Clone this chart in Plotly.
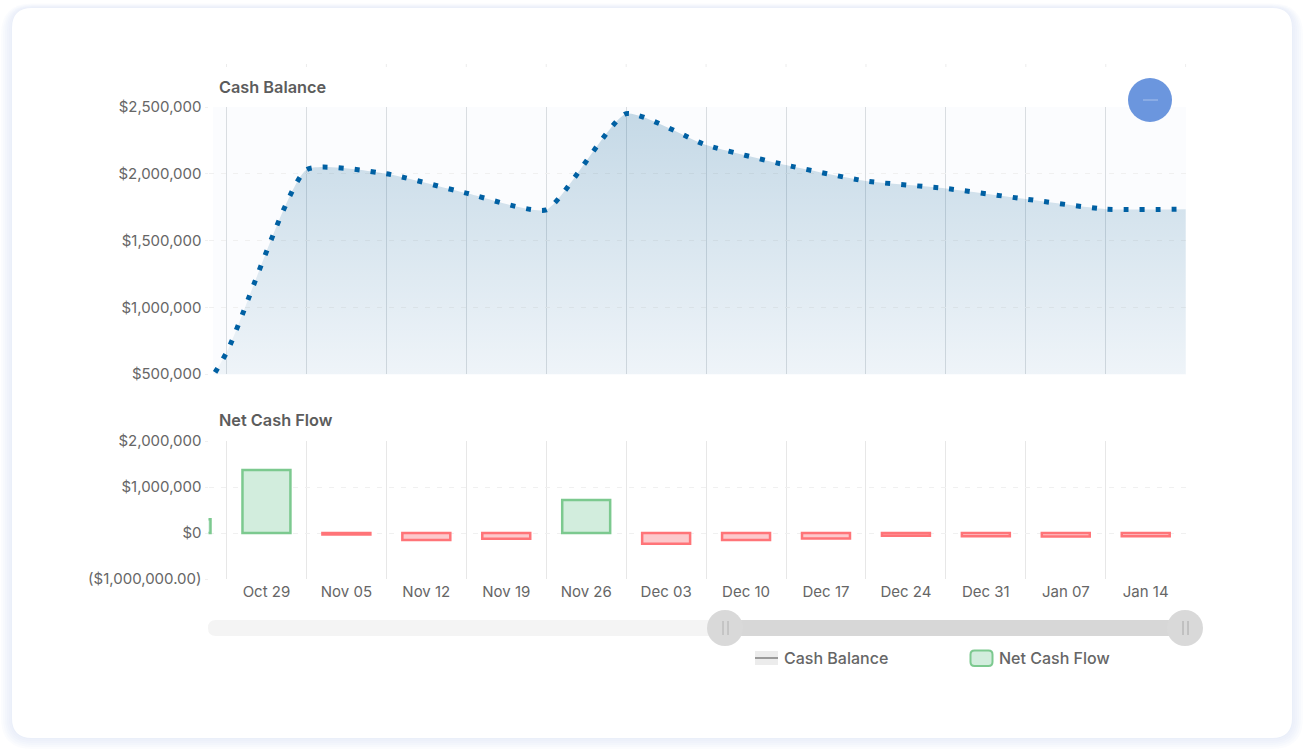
import plotly.graph_objects as go

W, H = 1304, 753

# data
week_labels = ["Oct 22", "Oct 29", "Nov 05", "Nov 12", "Nov 19", "Nov 26", "Dec 03",
               "Dec 10", "Dec 17", "Dec 24", "Dec 31", "Jan 07", "Jan 14"]
net_cash_flow = [300000, 1370000, -30000, -150000, -125000, 720000, -235000,
                 -150000, -120000, -60000, -70000, -75000, -70000]
cash_balance = [-300000, 660000, 2030000, 2000000, 1855000, 1730000, 2450000, 2215000,
                2065000, 1945000, 1890000, 1810000, 1735000, 1735000]
balance_ticks = [500000, 1000000, 1500000, 2000000, 2500000]
balance_labels = ["$500,000", "$1,000,000", "$1,500,000", "$2,000,000", "$2,500,000"]
flow_ticks = [-1000000, 0, 1000000, 2000000]
flow_labels = ["($1,000,000.00)", "$0", "$1,000,000", "$2,000,000"]

FONT = "Inter"
TEXT = "#666666"


def px(x):
    return x / W


def py(y):
    return 1 - y / H


def rrect(x0, y0, x1, y1, r):
    return (f"M {px(x0 + r)} {py(y0)} L {px(x1 - r)} {py(y0)} Q {px(x1)} {py(y0)} {px(x1)} {py(y0 + r)} "
            f"L {px(x1)} {py(y1 - r)} Q {px(x1)} {py(y1)} {px(x1 - r)} {py(y1)} "
            f"L {px(x0 + r)} {py(y1)} Q {px(x0)} {py(y1)} {px(x0)} {py(y1 - r)} "
            f"L {px(x0)} {py(y0 + r)} Q {px(x0)} {py(y0)} {px(x0 + r)} {py(y0)} Z")


def box(x0, y0, x1, y1, **kw):
    return dict(type="rect", xref="paper", yref="paper", x0=px(x0), x1=px(x1), y0=py(y0), y1=py(y1), **kw)


def seg(x0, y0, x1, y1, color, width=1, layer="above"):
    return dict(type="line", xref="paper", yref="paper", x0=px(x0), x1=px(x1), y0=py(y0), y1=py(y1),
                line=dict(color=color, width=width), layer=layer)


def circle(cx, cy, r, color):
    return box(cx - r, cy - r, cx + r, cy + r, fillcolor=color, line=dict(width=0), layer="above") | {"type": "circle"}


def rounded(x0, y0, x1, y1, r, fill, line=None, lw=0, layer="below"):
    return dict(type="path", xref="paper", yref="paper", path=rrect(x0, y0, x1, y1, r),
                fillcolor=fill, line=dict(color=line or fill, width=lw), layer=layer)


week_x = list(range(len(week_labels)))
balance_x = [i - 0.5 for i in range(len(cash_balance))]
colors_fill = ["#d2eddd" if v >= 0 else "#fcc9cc" for v in net_cash_flow]
colors_line = ["#7cc98f" if v >= 0 else "#ff7478" for v in net_cash_flow]

fig = go.Figure()
fig.add_trace(go.Scatter(
    x=balance_x, y=cash_balance, mode="lines", name="Cash Balance",
    line=dict(color="#0060a3", width=5, dash="5px,11px", shape="spline", smoothing=0.5),
    fill="tozeroy",
    fillgradient=dict(type="vertical", start=2500000, stop=500000,
                      colorscale=[[0, "rgba(0,90,145,0.22)"], [1, "rgba(0,90,145,0.05)"]]),
    xaxis="x", yaxis="y", showlegend=False,
))
fig.add_trace(go.Bar(
    x=week_x, y=net_cash_flow, width=0.6, name="Net Cash Flow",
    marker=dict(color=colors_fill, line=dict(color=colors_line, width=2.5)),
    xaxis="x2", yaxis="y2", showlegend=False,
))

xrange = [0.275, 12.51]
xcommon = dict(range=xrange, domain=[px(208.5), px(1186.5)], showgrid=False, zeroline=False, showline=False,
               tickmode="array", tickvals=week_x, fixedrange=True, automargin=False)

# soft card shadow, heavier at the sides and bottom than at the top
shadow = [rounded(12 - e, 8 - e * 0.4, 1292 + e, 738 + e, 20 + e, "rgba(205,222,240,0.08)")
          for e in (11, 9, 7, 5, 3, 1)]

# faint tick marks above the top panel
top_marks = [dict(type="line", xref="x", yref="paper", x0=v, x1=v, y0=py(64), y1=py(67),
                  line=dict(color="#ececec", width=1), layer="below") for v in balance_x[1:]]

shapes = shadow + [
    rounded(12, 8, 1292, 738, 20, "#ffffff"),
    box(213, 107, 1186, 375, fillcolor="#fbfcfe", line=dict(width=0), layer="below"),
    # range slider
    rounded(208, 620, 726, 636, 8, "#f4f4f4", layer="above"),
    box(726, 620, 1186, 636, fillcolor="#d7d7d7", line=dict(width=0), layer="above"),
    circle(725, 628, 18, "#d9d9d9"),
    circle(1185, 628, 18, "#d9d9d9"),
    seg(723, 621, 723, 635, "#b0b0b0"), seg(728, 621, 728, 635, "#b0b0b0"),
    seg(1183, 621, 1183, 635, "#a8a8a8"), seg(1188, 621, 1188, 635, "#a8a8a8"),
    # collapse button
    circle(1150, 100, 22, "#6b96de"),
    seg(1143, 100, 1158, 100, "#b9cdf0", 0.8),
    # legend swatches
    box(755, 651, 778, 665, fillcolor="#ececec", line=dict(width=0), layer="above"),
    seg(755, 658, 778, 658, "#666666", 1.2),
    rounded(970.5, 650.5, 992.5, 666, 4, "#d2eddd", "#7cc98f", 2, layer="above"),
] + top_marks

annotations = [
    dict(text=t, x=px(x), y=py(y), xref="paper", yref="paper", xanchor="left", yanchor="middle", showarrow=False,
         font=dict(family=FONT, size=s, color=c, weight=w))
    for t, x, y, s, c, w in [
        ("Cash Balance", 217, 87, 16.3, "#5c5c5c", 600),
        ("Net Cash Flow", 217, 420.5, 16.3, "#5c5c5c", 600),
        ("Cash Balance", 782, 658, 16, "#666666", 500),
        ("Net Cash Flow", 997, 658, 16, "#666666", 500),
    ]
]

minor_top = dict(tick0=0.5, dtick=1, showgrid=True, gridcolor="#d9dde1", gridwidth=1)
minor_bottom = dict(tick0=0.5, dtick=1, showgrid=True, gridcolor="#e7e7e7", gridwidth=1)
ycommon = dict(showline=False, zeroline=False, showgrid=True, gridcolor="#f0f0f0", griddash="5px,7px",
               gridwidth=1, ticks="outside", ticklen=3, tickcolor="#f0f0f0", tickmode="array",
               tickfont=dict(family=FONT, size=15, color=TEXT), fixedrange=True, automargin=False)

fig.update_layout(
    template="none",
    width=W, height=H, autosize=False,
    margin=dict(l=0, r=0, t=0, b=0, pad=0),
    paper_bgcolor="#ffffff", plot_bgcolor="rgba(0,0,0,0)",
    showlegend=False, shapes=shapes, annotations=annotations,
    xaxis=dict(**xcommon, anchor="y", showticklabels=False, ticks="", minor=minor_top),
    xaxis2=dict(**xcommon, anchor="y2", ticktext=week_labels, ticks="", ticklabelstandoff=2,
                tickfont=dict(family=FONT, size=15, color=TEXT), minor=minor_bottom),
    yaxis=dict(**ycommon, domain=[py(374), py(107)], range=[500000, 2500000], anchor="x",
               tickvals=balance_ticks, ticktext=balance_labels),
    yaxis2=dict(**ycommon, domain=[py(579), py(441)], range=[-1000000, 2000000], anchor="x2",
                tickvals=flow_ticks, ticktext=flow_labels),
)

fig.write_html("out.html", config={"displayModeBar": False},
               post_script="document.body.style.margin='0';document.body.style.background='#ffffff';")
